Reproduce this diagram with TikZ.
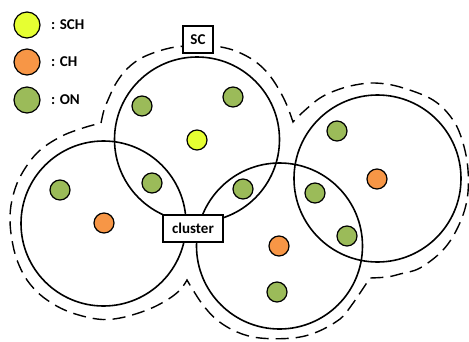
\documentclass[tikz,border=0pt]{standalone}
\usepackage{fontspec}
\setmainfont{Carlito}
\definecolor{schY}{RGB}{230,255,50}
\definecolor{chO}{RGB}{247,150,70}
\definecolor{onG}{RGB}{155,187,89}
\begin{document}
\begin{tikzpicture}[x=1pt,y=-1pt,
  bigc/.style={circle,draw,line width=1.6pt,minimum size=#1,inner sep=0pt},
  dot/.style={circle,draw,line width=1.2pt,minimum size=20pt,inner sep=0pt},
  schnode/.style={dot,fill=schY},
  chnode/.style={dot,fill=chO},
  onnode/.style={dot,fill=onG},
  legdot/.style={minimum size=26pt},
  lbl/.style={font=\bfseries\fontsize{15}{18}\selectfont,anchor=west,inner sep=0pt},
  tagbox/.style={draw,fill=white,line width=1.2pt,font=\bfseries\fontsize{15}{18}\selectfont,inner sep=0pt,minimum height=27pt},
  outline/.style={line width=1.4pt,dash pattern=on 13pt off 7pt}]
\useasboundingbox (0,0) rectangle (469,341);

% dashed boundary of the super-cluster
\draw[outline]
  plot[smooth,tension=0.6] coordinates {(101,123) (104,110) (108,100) (115,85) (125,71) (138,60) (153,53) (170,48) (185,46) (200,45) (215,46) (233,50) (250,58) (263,68) (273,80) (282,95) (288,108) (293,122)}
  -- plot[smooth,tension=0.6] coordinates {(293,122) (303,112) (320,98) (337,90) (355,85) (375,83) (400,87) (433,100) (453,120) (463,143) (468,170) (467,200) (458,227) (443,250) (420,268) (400,274) (387,277) (370,278)}
  -- plot[smooth,tension=0.6] coordinates {(370,278) (360,293) (351,306) (340,319) (317,332) (293,338) (260,338) (237,332) (217,320) (203,305) (193,290) (187,280)}
  -- plot[smooth,tension=0.6] coordinates {(187,280) (180,290) (167,300) (147,310) (120,318) (97,319) (67,311) (43,297) (27,280) (17,260) (12,240) (10,220) (12,200) (20,177) (37,153) (60,137) (83,128) (101,123)}
  -- cycle;

% cluster circles
\node[bigc=165pt] (cA) at (197,139.5) {};
\node[bigc=165pt] (cB) at (103.5,223.5) {};
\node[bigc=166pt] (cC) at (279.5,246) {};
\node[bigc=167pt] (cD) at (377.5,178.5) {};

% sensor nodes
\node[onnode] (n1) at (142,106) {};
\node[onnode] (n2) at (233,97) {};
\node[schnode] (n3) at (197,140) {};
\node[onnode] (n4) at (152,183) {};
\node[onnode] (n5) at (60,190) {};
\node[chnode] (n6) at (104,223) {};
\node[onnode] (n7) at (243,189) {};
\node[onnode] (n8) at (337,131) {};
\node[chnode] (n9) at (377,179) {};
\node[onnode] (n10) at (315,193) {};
\node[onnode] (n11) at (347,236) {};
\node[chnode] (n12) at (279,246) {};
\node[onnode] (n13) at (277,292) {};

% labels
\node[tagbox,minimum width=30pt] (sc) at (198,39.5) {SC};
\node[tagbox,minimum width=60pt] (cl) at (193,228.5) {cluster};

% legend
\node[schnode,legdot] (l1) at (27,25) {};
\node[chnode,legdot] (l2) at (27,62) {};
\node[onnode,legdot] (l3) at (27,100) {};
\node[lbl] (t1) at (51,25) {: SCH};
\node[lbl] (t2) at (51,62) {: CH};
\node[lbl] (t3) at (51,100) {: ON};
\end{tikzpicture}
\end{document}
